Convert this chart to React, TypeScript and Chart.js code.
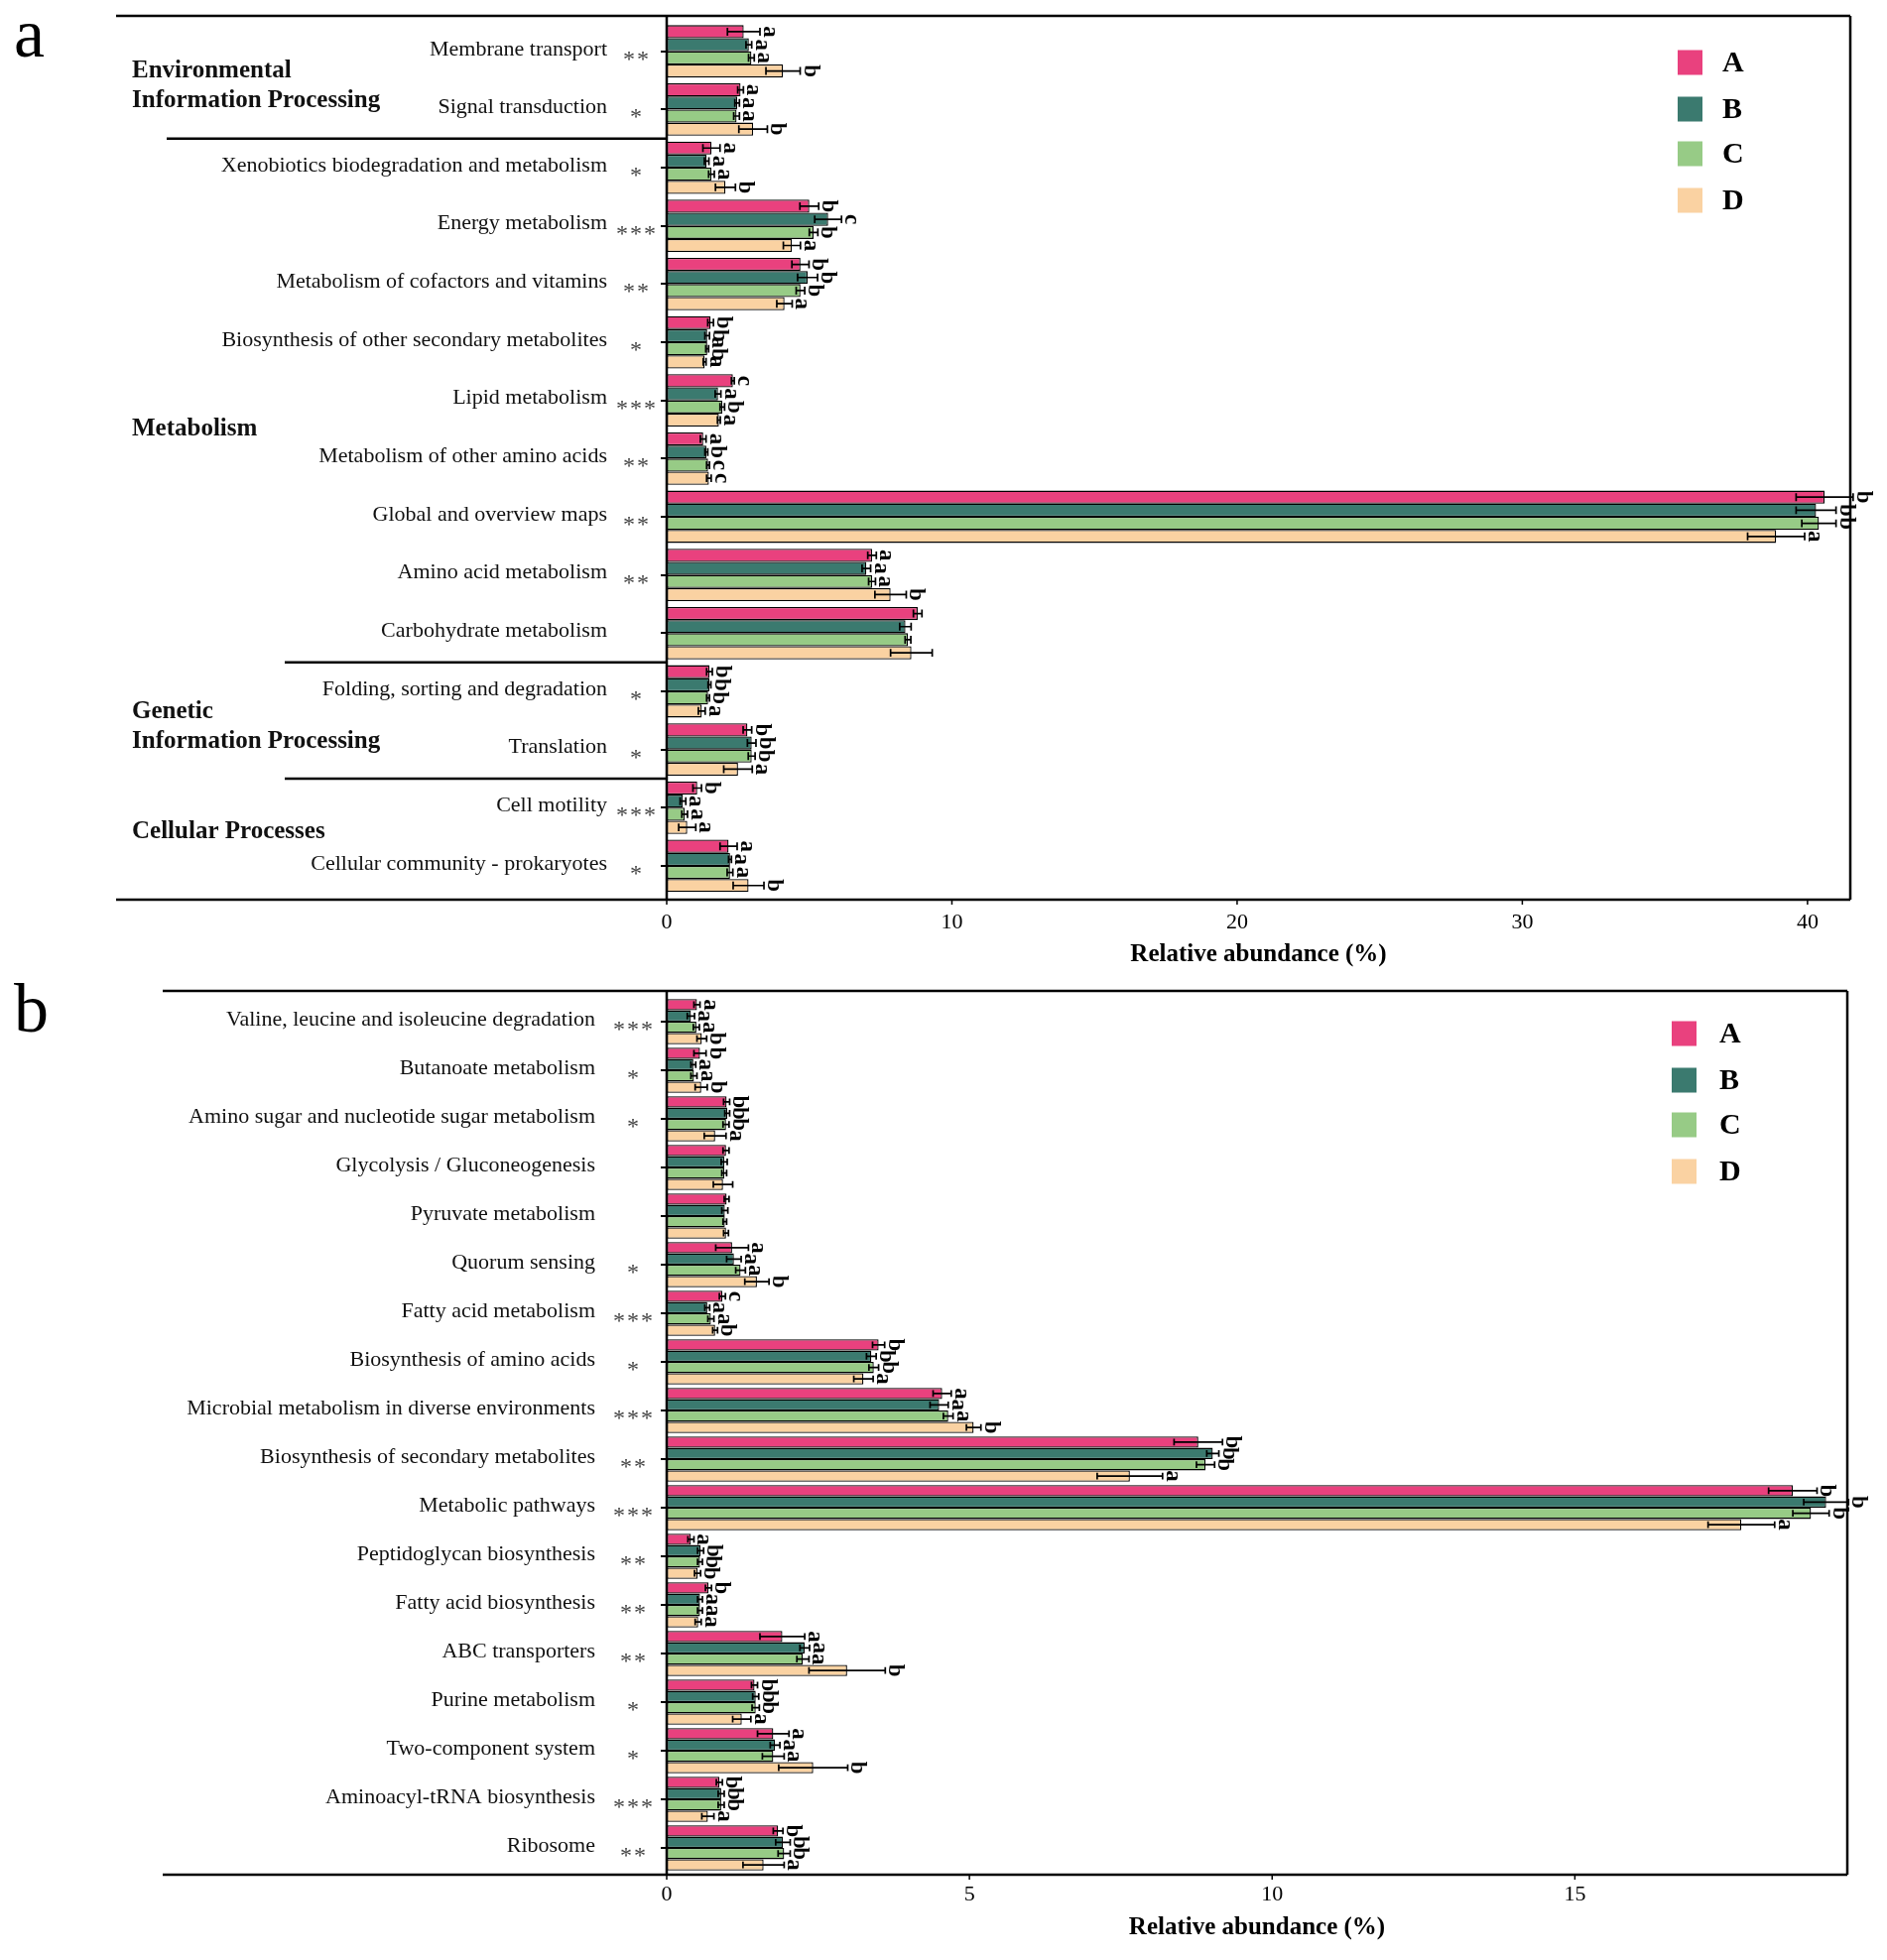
import React, { useEffect, useRef } from "react";
import { Chart, registerables } from "chart.js";
Chart.register(...registerables);

// ---------------- Panel a data ----------------
const catsA = [
  "Membrane transport",
  "Signal transduction",
  "Xenobiotics biodegradation and metabolism",
  "Energy metabolism",
  "Metabolism of cofactors and vitamins",
  "Biosynthesis of other secondary metabolites",
  "Lipid metabolism",
  "Metabolism of other amino acids",
  "Global and overview maps",
  "Amino acid metabolism",
  "Carbohydrate metabolism",
  "Folding, sorting and degradation",
  "Translation",
  "Cell motility",
  "Cellular community - prokaryotes",
];
const starsA = ["**", "*", "*", "***", "**", "*", "***", "**", "**", "**", "", "*", "*", "***", "*"];
const aValA = [2.7, 2.59, 1.57, 5.0, 4.69, 1.54, 2.32, 1.28, 40.6, 7.2, 8.8, 1.5, 2.83, 1.07, 2.17];
const aValB = [2.88, 2.47, 1.4, 5.66, 4.94, 1.42, 1.8, 1.39, 40.3, 7.0, 8.37, 1.5, 2.98, 0.57, 2.22];
const aValC = [2.97, 2.45, 1.57, 5.15, 4.69, 1.42, 1.95, 1.45, 40.4, 7.2, 8.46, 1.45, 2.98, 0.63, 2.22];
const aValD = [4.08, 3.03, 2.06, 4.39, 4.13, 1.33, 1.83, 1.48, 38.9, 7.85, 8.58, 1.23, 2.5, 0.72, 2.87];
const aErrA = [0.57, 0.1, 0.3, 0.33, 0.3, 0.1, 0.05, 0.1, 1.0, 0.15, 0.15, 0.1, 0.15, 0.15, 0.3];
const aErrB = [0.1, 0.08, 0.08, 0.47, 0.35, 0.08, 0.1, 0.05, 0.7, 0.15, 0.2, 0.05, 0.15, 0.1, 0.05];
const aErrC = [0.1, 0.1, 0.1, 0.15, 0.15, 0.05, 0.08, 0.05, 0.6, 0.12, 0.1, 0.05, 0.12, 0.1, 0.1];
const aErrD = [0.6, 0.5, 0.35, 0.3, 0.27, 0.05, 0.05, 0.08, 1.0, 0.55, 0.73, 0.12, 0.5, 0.3, 0.54];
const aLetA = ["a", "a", "a", "b", "b", "b", "c", "a", "b", "a", "", "b", "b", "b", "a"];
const aLetB = ["a", "a", "a", "c", "b", "b", "a", "b", "b", "a", "", "b", "b", "a", "a"];
const aLetC = ["a", "a", "a", "b", "b", "ab", "b", "c", "b", "a", "", "b", "b", "a", "a"];
const aLetD = ["b", "b", "b", "a", "a", "a", "a", "c", "a", "b", "", "a", "a", "a", "b"];
const groupNamesA = [
  ["Environmental", "Information Processing"],
  ["Metabolism"],
  ["Genetic", "Information Processing"],
  ["Cellular Processes"],
];
const xTicksA = [0, 10, 20, 30, 40];

// ---------------- Panel b data ----------------
const catsB = [
  "Valine, leucine and isoleucine degradation",
  "Butanoate metabolism",
  "Amino sugar and nucleotide sugar metabolism",
  "Glycolysis / Gluconeogenesis",
  "Pyruvate metabolism",
  "Quorum sensing",
  "Fatty acid metabolism",
  "Biosynthesis of amino acids",
  "Microbial metabolism in diverse environments",
  "Biosynthesis of secondary metabolites",
  "Metabolic pathways",
  "Peptidoglycan biosynthesis",
  "Fatty acid biosynthesis",
  "ABC transporters",
  "Purine metabolism",
  "Two-component system",
  "Aminoacyl-tRNA biosynthesis",
  "Ribosome",
];
const starsB = ["***", "*", "*", "", "", "*", "***", "*", "***", "**", "***", "**", "**", "**", "*", "*", "***", "**"];
const bValA = [0.5, 0.55, 0.99, 0.98, 0.99, 1.08, 0.92, 3.5, 4.55, 8.78, 18.6, 0.4, 0.69, 1.91, 1.45, 1.76, 0.87, 1.84];
const bValB = [0.4, 0.44, 1.0, 0.95, 0.96, 1.11, 0.67, 3.38, 4.5, 9.02, 19.15, 0.56, 0.55, 2.28, 1.47, 1.79, 0.9, 1.92];
const bValC = [0.49, 0.45, 0.98, 0.95, 0.96, 1.22, 0.73, 3.42, 4.65, 8.9, 18.9, 0.55, 0.55, 2.25, 1.47, 1.76, 0.9, 1.94];
const bValD = [0.58, 0.57, 0.8, 0.93, 0.98, 1.49, 0.8, 3.25, 5.07, 7.65, 17.75, 0.51, 0.52, 2.98, 1.24, 2.42, 0.68, 1.6];
const bErrA = [0.05, 0.1, 0.05, 0.05, 0.04, 0.27, 0.05, 0.1, 0.15, 0.4, 0.4, 0.05, 0.05, 0.37, 0.05, 0.26, 0.05, 0.08];
const bErrB = [0.06, 0.04, 0.04, 0.05, 0.05, 0.12, 0.04, 0.08, 0.15, 0.1, 0.37, 0.05, 0.04, 0.08, 0.05, 0.08, 0.05, 0.12];
const bErrC = [0.05, 0.05, 0.05, 0.04, 0.03, 0.08, 0.05, 0.08, 0.08, 0.15, 0.3, 0.04, 0.04, 0.1, 0.06, 0.18, 0.05, 0.1];
const bErrD = [0.08, 0.1, 0.18, 0.16, 0.04, 0.2, 0.04, 0.16, 0.12, 0.54, 0.55, 0.05, 0.05, 0.63, 0.15, 0.57, 0.1, 0.34];
const bLetA = ["a", "b", "b", "", "", "a", "c", "b", "a", "b", "b", "a", "b", "a", "b", "a", "b", "b"];
const bLetB = ["a", "a", "b", "", "", "a", "a", "b", "a", "b", "b", "b", "a", "a", "b", "a", "b", "b"];
const bLetC = ["a", "a", "b", "", "", "a", "a", "b", "a", "b", "b", "b", "a", "a", "b", "a", "b", "b"];
const bLetD = ["b", "b", "a", "", "", "b", "b", "a", "b", "a", "a", "b", "a", "b", "a", "b", "a", "a"];
const xTicksB = [0, 5, 10, 15];

const seriesNames = ["A", "B", "C", "D"];
const seriesColors = ["#E9417E", "#3B7A6F", "#97CB86", "#FAD2A2"];

const SERIF = '"Liberation Serif", "Times New Roman", serif';
const W = 1902;

type Spec = {
  id: string;
  cats: string[];
  stars: string[];
  vals: number[][];
  errs: number[][];
  lets: string[][];
  xTicks: number[];
  xMax: number;
  groups: { lines: string[]; pos: number }[];
  seps: { after: number; x0: number }[];
  H: number;
  bandTop: number;
  bandBottom: number;
  frameTop: number;
  frameBottom: number;
  frameLeft: number;
  axisX: number;
  right: number;
  tickY: number;
  titleY: number;
  labelRight: number;
  starX: number;
  catPct: number;
  legendX: number;
  legendY: number[];
  legendTextX: number;
  panel: string;
  panelBaseline: number;
};

const specA: Spec = {
  id: "a",
  cats: catsA,
  stars: starsA,
  vals: [aValA, aValB, aValC, aValD],
  errs: [aErrA, aErrB, aErrC, aErrD],
  lets: [aLetA, aLetB, aLetC, aLetD],
  xTicks: xTicksA,
  xMax: 41.5,
  groups: [
    { lines: groupNamesA[0], pos: 0.6 },
    { lines: groupNamesA[1], pos: 6.5 },
    { lines: groupNamesA[2], pos: 11.6 },
    { lines: groupNamesA[3], pos: 13.42 },
  ],
  seps: [
    { after: 1, x0: 168 },
    { after: 10, x0: 287 },
    { after: 12, x0: 287 },
  ],
  H: 985,
  bandTop: 22.4,
  bandBottom: 902.3,
  frameTop: 16,
  frameBottom: 907,
  frameLeft: 117,
  axisX: 672,
  right: 1865,
  tickY: 930,
  titleY: 963,
  labelRight: 612,
  starX: 641,
  catPct: 0.9,
  legendX: 1691,
  legendY: [63, 110, 155, 202],
  legendTextX: 1736,
  panel: "a",
  panelBaseline: 57,
};

const specB: Spec = {
  id: "b",
  cats: catsB,
  stars: starsB,
  vals: [bValA, bValB, bValC, bValD],
  errs: [bErrA, bErrB, bErrC, bErrD],
  lets: [bLetA, bLetB, bLetC, bLetD],
  xTicks: xTicksB,
  xMax: 19.5,
  groups: [],
  seps: [],
  H: 991,
  bandTop: 20.5,
  bandBottom: 902.5,
  frameTop: 14,
  frameBottom: 905,
  frameLeft: 164,
  axisX: 672,
  right: 1862,
  tickY: 925,
  titleY: 959,
  labelRight: 600,
  starX: 638,
  catPct: 0.93,
  legendX: 1685,
  legendY: [57, 104, 149, 196],
  legendTextX: 1733,
  panel: "b",
  panelBaseline: 55,
};

function makePlugin(s: Spec) {
  return {
    id: "decor_" + s.id,
    afterDraw(chart: any) {
      const ctx = chart.ctx as CanvasRenderingContext2D;
      const xs = chart.scales.x;
      const ys = chart.scales.y;
      const line = (x1: number, y1: number, x2: number, y2: number) => {
        ctx.beginPath();
        ctx.moveTo(x1, y1);
        ctx.lineTo(x2, y2);
        ctx.stroke();
      };
      ctx.save();

      // error bars and significance letters
      for (let d = 0; d < s.vals.length; d++) {
        const meta = chart.getDatasetMeta(d);
        meta.data.forEach((el: any, i: number) => {
          const v = s.vals[d][i];
          const e = s.errs[d][i];
          const y = el.y;
          const h = el.height;
          const x1 = xs.getPixelForValue(v - e);
          const x2 = xs.getPixelForValue(v + e);
          ctx.strokeStyle = "#000";
          ctx.lineWidth = 1.7;
          const c = h * 0.3;
          ctx.beginPath();
          ctx.moveTo(x1, y);
          ctx.lineTo(x2, y);
          ctx.moveTo(x1, y - c);
          ctx.lineTo(x1, y + c);
          ctx.moveTo(x2, y - c);
          ctx.lineTo(x2, y + c);
          ctx.stroke();
          const L = s.lets[d][i];
          if (L) {
            ctx.save();
            ctx.translate(Math.max(x2, el.x) + 4, y);
            ctx.rotate(Math.PI / 2);
            ctx.font = "bold 23px " + SERIF;
            ctx.textAlign = "center";
            ctx.textBaseline = "alphabetic";
            ctx.fillStyle = "#000";
            ctx.fillText(L, 0, 0);
            ctx.restore();
          }
        });
      }

      // frame
      const x0 = xs.getPixelForValue(0);
      ctx.strokeStyle = "#000";
      ctx.lineWidth = 2.5;
      line(s.frameLeft, s.frameTop, s.right, s.frameTop);
      line(s.frameLeft, s.frameBottom, s.right, s.frameBottom);
      line(s.right, s.frameTop, s.right, s.frameBottom);
      line(x0, s.frameTop, x0, s.frameBottom);

      // x ticks and labels
      ctx.lineWidth = 1.5;
      ctx.fillStyle = "#000";
      ctx.font = "22px " + SERIF;
      ctx.textAlign = "center";
      ctx.textBaseline = "middle";
      (xs.ticks as any[]).forEach((t) => {
        const px = xs.getPixelForValue(t.value);
        line(px, s.frameBottom, px, s.frameBottom + 5);
        ctx.fillText(String(t.value), px, s.tickY);
      });
      ctx.font = "bold 25px " + SERIF;
      ctx.fillText("Relative abundance (%)", (chart.chartArea.left + chart.chartArea.right) / 2, s.titleY);

      // category labels and stars
      s.cats.forEach((name, i) => {
        const y = ys.getPixelForValue(i);
        ctx.font = "22px " + SERIF;
        ctx.fillStyle = "#111";
        ctx.textAlign = "right";
        ctx.textBaseline = "middle";
        ctx.fillText(name, s.labelRight, y - 2);
        const st = s.stars[i];
        ctx.font = "24px " + SERIF;
        ctx.fillStyle = "#444";
        ctx.textAlign = "center";
        ctx.textBaseline = "alphabetic";
        for (let k = 0; k < st.length; k++) {
          const sx = s.starX + (k - (st.length - 1) / 2) * 14;
          ctx.fillText("*", sx, y + 15);
        }
      });

      // group labels
      ctx.fillStyle = "#111";
      ctx.font = "bold 25px " + SERIF;
      ctx.textAlign = "left";
      ctx.textBaseline = "middle";
      s.groups.forEach((g) => {
        const yc = ys.getPixelForValue(g.pos);
        const n = g.lines.length;
        g.lines.forEach((ln, k) => {
          ctx.fillText(ln, 133, yc + (k - (n - 1) / 2) * 30);
        });
      });

      // separators
      ctx.lineWidth = 2.5;
      s.seps.forEach((sp) => {
        const yy = (ys.getPixelForValue(sp.after) + ys.getPixelForValue(sp.after + 1)) / 2;
        line(sp.x0, yy, x0, yy);
      });

      // legend
      seriesNames.forEach((nm, k) => {
        const cy = s.legendY[k];
        ctx.fillStyle = seriesColors[k];
        ctx.fillRect(s.legendX, cy - 12.5, 25, 25);
        ctx.fillStyle = "#000";
        ctx.font = "bold 30px " + SERIF;
        ctx.textAlign = "left";
        ctx.textBaseline = "middle";
        ctx.fillText(nm, s.legendTextX, cy + 1);
      });

      // panel letter
      ctx.fillStyle = "#000";
      ctx.font = "70px " + SERIF;
      ctx.textAlign = "left";
      ctx.textBaseline = "alphabetic";
      ctx.fillText(s.panel, 14, s.panelBaseline);

      ctx.restore();
    },
  };
}

function Panel({ spec }: { spec: Spec }) {
  const ref = useRef<HTMLCanvasElement | null>(null);
  useEffect(() => {
    if (!ref.current) return;
    const s = spec;
    const chart = new Chart(ref.current, {
      type: "bar",
      data: {
        labels: s.cats,
        datasets: seriesNames.map((nm, k) => ({
          label: nm,
          data: s.vals[k],
          backgroundColor: seriesColors[k],
          borderColor: "#000",
          borderWidth: 1.3,
          borderSkipped: false,
          barPercentage: 1,
          categoryPercentage: s.catPct,
        })),
      },
      options: {
        indexAxis: "y",
        responsive: false,
        maintainAspectRatio: false,
        devicePixelRatio: 1,
        animation: false,
        events: [],
        layout: { padding: { top: s.bandTop, bottom: 0, left: 0, right: W - s.right } },
        plugins: { legend: { display: false }, tooltip: { enabled: false }, title: { display: false } },
        scales: {
          x: {
            type: "linear",
            min: 0,
            max: s.xMax,
            afterBuildTicks: (sc: any) => {
              sc.ticks = s.xTicks.map((v) => ({ value: v }));
            },
            ticks: { display: false },
            grid: { display: false },
            border: { display: false },
            afterFit: (sc: any) => {
              sc.height = s.H - s.bandBottom;
            },
          },
          y: {
            type: "category",
            offset: true,
            ticks: { display: false },
            grid: {
              display: true,
              drawOnChartArea: false,
              drawTicks: true,
              tickLength: 6,
              offset: false,
              color: "#000",
              lineWidth: 2,
            },
            border: { display: false },
            afterFit: (sc: any) => {
              sc.width = s.axisX;
            },
          },
        },
      } as any,
      plugins: [makePlugin(s)],
    });
    return () => chart.destroy();
  }, [spec]);
  return <canvas ref={ref} width={W} height={spec.H} style={{ display: "block", width: W, height: spec.H }} />;
}

export default function App() {
  return (
    <div style={{ position: "absolute", left: 0, top: 0, width: W, height: 1976, background: "#fff" }}>
      <Panel spec={specA} />
      <Panel spec={specB} />
    </div>
  );
}
